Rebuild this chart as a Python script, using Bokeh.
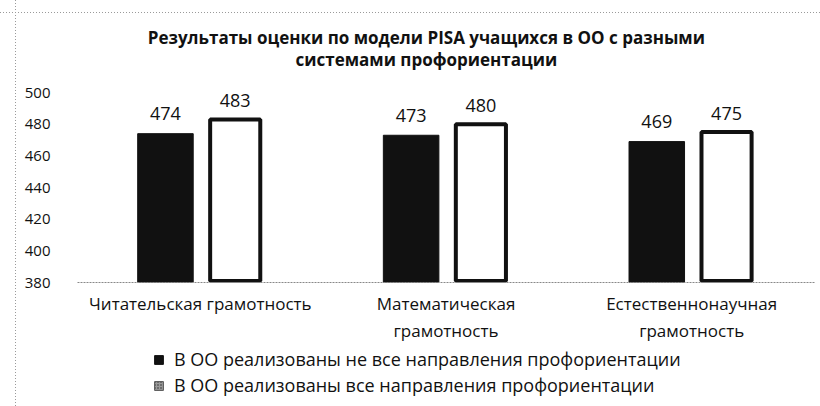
from bokeh.plotting import figure
from bokeh.models import ColumnDataSource, LabelSet, Label, Legend, LegendItem, FactorRange, FixedTicker
from bokeh.core.properties import value
from bokeh.layouts import column
from bokeh.transform import dodge
from bokeh.embed import file_html
from bokeh.resources import INLINE

categories = ["Читательская грамотность", "Математическая\nграмотность", "Естественнонаучная\nграмотность"]
series_names = ["В ОО реализованы не все направления профориентации",
                "В ОО реализованы все направления профориентации"]
values_not_all = [474, 473, 469]
values_all = [483, 480, 475]
y_ticks = [380, 400, 420, 440, 460, 480, 500]
title_lines = ["Результаты оценки по модели PISA учащихся в ОО с разными", "системами профориентации"]

FONT = "Open Sans"
INK = "#111111"

src = ColumnDataSource(dict(cat=categories, a=values_not_all, b=values_all,
                            la=[str(v) for v in values_not_all], lb=[str(v) for v in values_all]))

# frame: x 77..814, y 16..282 ; 500 -> y 92, 380 -> y 282
p = figure(x_range=FactorRange(*categories), y_range=(380, 548.0), width=820, height=346,
           output_backend="svg", toolbar_location=None,
           min_border_left=77, min_border_right=6, min_border_top=16, min_border_bottom=64)
p.title = None
p.outline_line_color = None
p.xgrid.grid_line_color = None
p.ygrid.grid_line_color = None
p.background_fill_color = None
p.border_fill_color = None

p.vbar(x=dodge("cat", -0.142, range=p.x_range), top="a", bottom=380, width=0.226, source=src,
       fill_color=INK, line_color=INK)
p.vbar(x=dodge("cat", 0.142, range=p.x_range), top="b", bottom=381, width=0.204, source=src,
       fill_color="white", line_color=INK, line_width=4)

p.add_layout(LabelSet(x=dodge("cat", -0.142, range=p.x_range), y="a", text="la", source=src,
                      text_align="center", text_baseline="middle", y_offset=20,
                      text_font=value(FONT), text_font_size="18px", text_color=INK))
p.add_layout(LabelSet(x=dodge("cat", 0.142, range=p.x_range), y="b", text="lb", source=src,
                      text_align="center", text_baseline="middle", y_offset=19,
                      text_font=value(FONT), text_font_size="18px", text_color=INK))

# two-line title
for yv, line in zip([534.7, 520.8], title_lines):
    p.add_layout(Label(x=1.42, y=yv, text=line, text_align="center", text_baseline="middle",
                       text_font=FONT, text_font_size="17px", text_font_style="bold", text_color=INK))

p.yaxis.ticker = FixedTicker(ticks=y_ticks)
p.yaxis.axis_line_color = None
p.yaxis.major_tick_line_color = None
p.yaxis.minor_tick_line_color = None
p.yaxis.major_tick_out = 0
p.yaxis.major_tick_in = 0
p.yaxis.major_label_text_font = FONT
p.yaxis.major_label_text_font_size = "15px"
p.yaxis.major_label_text_color = INK
p.yaxis.major_label_standoff = 27

p.xaxis.axis_line_color = "#888888"
p.xaxis.axis_line_dash = "2 1"
p.xaxis.major_tick_line_color = None
p.xaxis.minor_tick_line_color = None
p.xaxis.major_tick_out = 0
p.xaxis.major_tick_in = 0
p.xaxis.major_label_text_font = FONT
p.xaxis.major_label_text_font_size = "17px"
p.xaxis.major_label_text_color = INK
p.xaxis.major_label_standoff = 9

# legend strip below the chart
lg = figure(width=820, height=60, x_range=(0, 1), y_range=(0, 1), output_backend="svg",
            toolbar_location=None, min_border=0)
lg.title = None
lg.axis.visible = False
lg.xgrid.grid_line_color = None
lg.ygrid.grid_line_color = None
lg.outline_line_color = None
lg.background_fill_color = None
lg.border_fill_color = None
d1 = lg.quad(left=[-3], right=[-2], bottom=[-3], top=[-2], fill_color=INK, line_color=INK)
d2 = lg.quad(left=[-3], right=[-2], bottom=[-3], top=[-2], fill_color="#9a9a9a", line_color="#555555",
             hatch_pattern="dot", hatch_color="#2a2a2a", hatch_scale=3)
legend = Legend(items=[LegendItem(label=series_names[0], renderers=[d1]),
                       LegendItem(label=series_names[1], renderers=[d2])],
                location=(76, 9), orientation="vertical", background_fill_alpha=0,
                border_line_color=None, label_text_font=FONT, label_text_font_size="18px",
                label_text_color=INK, glyph_width=11, glyph_height=11, label_standoff=10,
                spacing=2, padding=0, margin=0, label_height=22)
lg.add_layout(legend, "center")

layout = column(p, lg, spacing=0)
layout.styles = {
    "background-image": "linear-gradient(to right, #9a9a9a 50%, transparent 50%), "
                        "linear-gradient(to bottom, #9a9a9a 50%, transparent 50%)",
    "background-size": "3px 1px, 1px 3px",
    "background-repeat": "repeat-x, repeat-y",
    "background-position": "15px 12px, 15px 12px",
}

open("out.html", "w").write(file_html(layout, INLINE))
